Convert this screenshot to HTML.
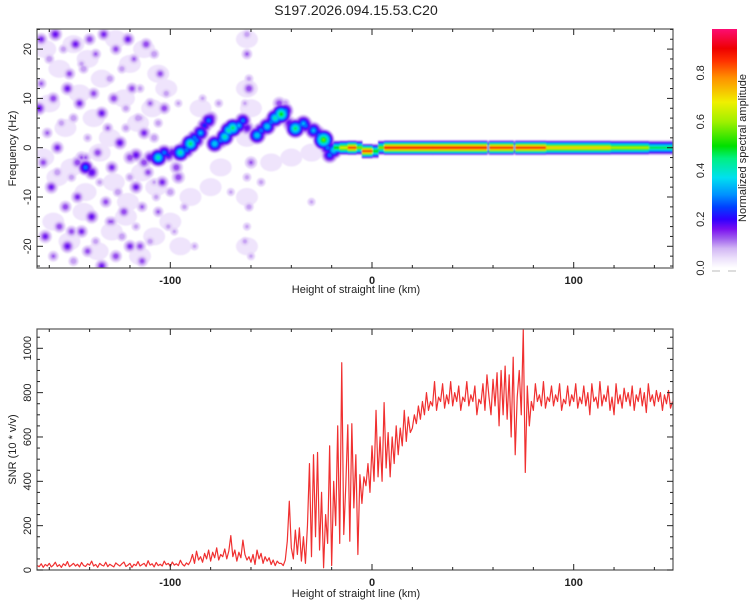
<!DOCTYPE html>
<html><head><meta charset="utf-8"><style>
html,body{margin:0;padding:0;background:#fff;}
svg{display:block;font-family:"Liberation Sans",sans-serif;}
</style></head><body>
<svg id="chart" width="750" height="600" viewBox="0 0 750 600" xmlns="http://www.w3.org/2000/svg">
<defs>
<clipPath id="clipTop"><rect x="37" y="29" width="636" height="239"/></clipPath>
<clipPath id="clipBot"><rect x="37" y="329" width="636" height="241"/></clipPath>
<filter id="soft" x="-5%" y="-5%" width="110%" height="110%"><feGaussianBlur stdDeviation="0.9"/></filter>
<linearGradient id="cbGrad" x1="0" y1="1" x2="0" y2="0"></linearGradient>
</defs>
<text x="356" y="15" text-anchor="middle" font-size="14" fill="#222">S197.2026.094.15.53.C20</text>
<g clip-path="url(#clipTop)"><g id="heat" filter="url(#soft)"></g></g>
<g id="topAxes"></g>
<g id="snrG" clip-path="url(#clipBot)"></g>
<g id="botAxes"></g>
<g id="cbar"></g>
</svg>
<script>
// ---- data ----
const cmapStops = [0,0.04,0.08,0.12,0.16,0.2,0.25,0.3,0.37,0.45,0.5,0.6,0.68,0.78,0.85,0.9,1];
const cmapColors = ['#ffffff','#ece0fb','#d2b6f4','#a060ee','#7a10f0','#3000ff','#0040ff','#0090ff','#00e0f0','#00f080','#00e000','#a0f000','#f0f000','#ff9000','#ff3000','#ee0000','#ff1090'];
const xTicks = [-100,0,100];
const freqTicks = [-20,-10,0,10,20];
const snrTicks = [0,200,400,600,800,1000];
const cbTicks = [0.0,0.2,0.4,0.6,0.8];

const hazeX = [-162,-155,-148,-141,-134,-127,-120,-113,-106,-160,-152,-145,-138,-130,-123,-116,-109,-102,-163,-156,-149,-142,-135,-128,-121,-114,-107,-158,-150,-143,-136,-129,-122,-115,-108,-100,-95,-90,-85,-80,-62,-62,-62,-62,-62,-50,-40,-30,-60,-75];
const hazeF = [20,16,21,18,14,22,17,20,15,9,4,11,6,2,10,5,8,12,-2,-6,-4,-9,-1,-7,-11,-5,-8,-15,-19,-13,-21,-17,-14,-22,-18,-15,-20,-10,8,-8,22,12,2,-10,-20,-3,-2,-1,8,-4];

const noiseX = [-164,-160,-157,-153,-150,-147,-144,-140,-137,-133,-130,-127,-124,-121,-118,-115,-112,-108,-105,-102,
 -165,-161,-158,-154,-151,-148,-145,-141,-138,-134,-131,-128,-125,-122,-119,-116,-113,-110,-106,-103,
 -163,-159,-156,-152,-149,-146,-142,-139,-135,-132,-129,-126,-123,-120,-117,-114,-111,-107,-104,-100,
 -162,-158,-155,-151,-148,-144,-141,-137,-134,-130,-127,-124,-120,-117,-114,-110,-106,-98,-93,-88,
 -164,-156,-149,-143,-136,-129,-122,-115,-108,-101,-62,-62,-61,-63,-62,-61,-62,-63,-60,-84,-76,-70,-55,-43,-30,-115,-108,-96];
const noiseF = [22,18,23,20,15,21,17,22,19,23,14,20,16,22,18,12,21,19,15,11,
 8,3,10,5,12,6,9,2,11,7,4,10,1,8,12,6,3,9,5,8,
 -3,-8,-5,-12,-6,-10,-2,-14,-7,-11,-4,-9,-13,-6,-8,-12,-5,-10,-7,-9,
 -18,-22,-16,-20,-23,-17,-21,-19,-24,-15,-22,-18,-20,-16,-23,-19,-13,-17,-12,-20,
 13,0,-17,16,-1,-15,4,-20,2,-16,23,19,14,9,-6,-12,-16,-19,-22,10,9,-9,-7,9,-11,6,-7,9];
const noiseA = [0.16,0.11,0.18,0.1,0.14,0.17,0.09,0.15,0.12,0.16,0.11,0.14,0.1,0.17,0.12,0.09,0.15,0.11,0.14,0.1,
 0.18,0.12,0.15,0.1,0.17,0.11,0.16,0.09,0.14,0.17,0.12,0.15,0.18,0.1,0.14,0.11,0.16,0.12,0.1,0.15,
 0.14,0.17,0.11,0.15,0.1,0.16,0.12,0.18,0.09,0.14,0.16,0.11,0.15,0.1,0.17,0.12,0.14,0.09,0.16,0.11,
 0.17,0.12,0.15,0.18,0.11,0.16,0.14,0.1,0.17,0.12,0.15,0.11,0.16,0.09,0.14,0.1,0.12,0.08,0.09,0.08,
 0.12,0.16,0.14,0.11,0.15,0.12,0.1,0.14,0.11,0.09,0.1,0.12,0.09,0.08,0.09,0.1,0.08,0.09,0.08,0.08,0.09,0.08,0.09,0.1,0.08,0.09,0.08,0.08];

const ridgeX = [-146,-142,-139,-144,-120,-117,-113,-110,-106,-103,-99,-97,-96,-95,-92,-90,-87,-85,-83,-81,-80,-78,-75,-73,-71,-69,-66,-64,-60,-57,-55,-52,-50,-48,-45,-43,-41,-38,-36,-34,-31,-29,-26,-24,-22,-21,-19,-61,-46,
 -108,-101,-93,-88,-76,-68,-62,-54,-47,-40,-33,-27];
const ridgeF = [-3,-4,-5,-2,-2,-1.5,-3,-2,-2,-1,-1,-4,-6,-1,-0.5,0.8,1.5,3,4.5,5.5,6,0.8,1.5,2.2,3.5,4,4.5,5.5,-3,2.5,3.5,4.3,5.2,6,6.8,7.5,5,3.9,4.5,4.9,4,3.5,2.5,1.6,0,-1.5,-0.5,12,9,
 -2,-1.5,0,2,1.2,4.3,4,3.8,6.5,4.5,4.5,3];
const ridgeA = [0.15,0.3,0.2,0.12,0.15,0.18,0.15,0.2,0.45,0.3,0.2,0.15,0.15,0.45,0.3,0.5,0.3,0.35,0.25,0.3,0.2,0.4,0.3,0.45,0.45,0.5,0.35,0.3,0.12,0.4,0.3,0.4,0.3,0.45,0.55,0.3,0.2,0.5,0.3,0.35,0.2,0.35,0.3,0.6,0.3,0.3,0.4,0.15,0.15,
 0.25,0.22,0.25,0.3,0.25,0.3,0.2,0.25,0.35,0.25,0.3,0.25];

const bandX = [-19,-16,-12,-8,-5,0,3,6,30,57,58,70,71,86,118,137,149];
const bandF = [0,0,0,0,-0.7,-0.7,0,0,0,0,0,0,0,0,0,0,0];
const bandA = [0.55,0.7,0.9,0.6,0.9,0.55,0.6,0.95,0.95,0.4,0.92,0.4,0.92,0.75,0.65,0.5,0.5];

const snrStart = -166;
const snrValues = [
20,15,28,12,25,18,30,14,22,35,16,24,12,28,20,38,15,22,30,18,26,14,34,20,16,28,22,40,18,25,
12,30,22,18,35,15,26,20,14,32,24,18,28,36,16,22,30,12,26,20,38,18,24,30,16,42,22,28,14,34,
20,26,18,40,24,30,16,36,22,28,20,44,26,18,32,24,
40,70,30,85,45,60,35,75,50,90,40,80,55,100,45,70,60,95,50,85,155,60,90,40,80,55,135,70,45,60,
35,70,25,90,50,75,30,60,40,55,25,45,20,40,30,
30,20,45,
130,310,100,50,180,70,190,40,150,30,200,
480,60,520,150,530,90,350,10,250,120,560,20,400,200,650,120,935,160,380,655,130,660,280,520,70,430,
300,420,380,480,350,560,400,720,420,600,400,755,460,620,420,600,480,650,520,640,560,720,580,690,620,
640,700,660,740,680,760,700,800,720,760,740,850,720,780,760,840,730,790,750,850,
740,800,760,830,720,780,760,850,740,790,760,830,700,770,750,840,720,880,780,700,
860,740,890,650,900,700,920,680,880,600,960,520,780,900,700,1085,440,830,650,760,
720,840,760,790,740,850,730,780,760,830,740,790,760,840,720,770,750,830,740,790,
760,840,730,780,750,830,740,800,700,840,760,780,730,850,740,790,760,830,720,780,
700,840,750,790,730,820,760,800,740,830,720,790,760,820,740,800,710,840,760,790,
740,810,760,800,720,790,750,810,730,760];

// ---- scales ----
const NS='http://www.w3.org/2000/svg';
const xs = k => 372 + k*2.017;
const yf = f => 147.7 - f*4.93;
const ys = v => 570 - v*0.2217;
function hex(h){return [parseInt(h.slice(1,3),16),parseInt(h.slice(3,5),16),parseInt(h.slice(5,7),16)];}
function cmap(v){
  v=Math.max(0,Math.min(1,v));
  for(let i=1;i<cmapStops.length;i++){
    if(v<=cmapStops[i]){const t=(v-cmapStops[i-1])/(cmapStops[i]-cmapStops[i-1]);
      const a=hex(cmapColors[i-1]),b=hex(cmapColors[i]);
      return 'rgb('+a.map((c,j)=>Math.round(c+(b[j]-c)*t)).join(',')+')';}
  }
  return cmapColors[cmapColors.length-1];
}
function mk(tag,attrs,parent){const e=document.createElementNS(NS,tag);for(const k in attrs)e.setAttribute(k,attrs[k]);parent.appendChild(e);return e;}
const levels=[0.03,0.07,0.11,0.15,0.2,0.26,0.32,0.4,0.48,0.56,0.64,0.72,0.8,0.88,0.95];

// ---- heatmap ----
const heat=document.getElementById('heat');
for(let i=0;i<hazeX.length;i++){
  const h=mk('ellipse',{cx:xs(hazeX[i]),cy:yf(hazeF[i]),rx:11,ry:9,fill:'#efe4fc'},heat);
  
  
}
for(const l of levels){
  const col=cmap(l+0.02);
  for(let i=0;i<noiseX.length;i++){const a=noiseA[i]; if(l>=a) continue;
    const r=(4+24*a)*(1-l/(a+0.02));
    const c=mk('circle',{cx:xs(noiseX[i]),cy:yf(noiseF[i]),r:r.toFixed(2),fill:col},heat);
    
    
  }
  for(let i=0;i<ridgeX.length;i++){const a=ridgeA[i]; if(l>=a) continue;
    const r=(7+8*a)*(1-l/(a+0.02));
    const c=mk('circle',{cx:xs(ridgeX[i]),cy:yf(ridgeF[i]),r:r.toFixed(2),fill:col},heat);
    
    
  }
  for(let i=0;i<bandX.length-1;i++){
    const a=bandA[i]; if(l>=a) continue;
    const h=8*(1-l/(a+0.02));
    const r=mk('rect',{x:xs(bandX[i]),y:(yf(bandF[i])-h).toFixed(2),width:(xs(bandX[i+1])-xs(bandX[i])+0.5).toFixed(2),height:(2*h).toFixed(2),fill:col},heat);
    
    
  }
}

// ---- axes ----
function axes(g,top,bot,yTicks,ymap,yMinorStep,yMin,yMax,yTitle,xLblY,xTitleY){
  mk('rect',{x:37,y:top,width:636,height:bot-top,fill:'none',stroke:'#555','stroke-width':1.2},g);
  for(let k=-160;k<=140;k+=20){const X=xs(k);const L=(k%100===0)?6:3;
    mk('line',{x1:X,y1:bot,x2:X,y2:bot-L,stroke:'#222'},g);
    mk('line',{x1:X,y1:top,x2:X,y2:top+L,stroke:'#222'},g);}
  for(const t of xTicks){const tx=mk('text',{x:xs(t),y:xLblY,'text-anchor':'middle','font-size':11,'font-weight':'bold',fill:'#222'},g);tx.textContent=t;
    
    }
  const xt=mk('text',{x:356,y:xTitleY,'text-anchor':'middle','font-size':11,fill:'#222'},g);xt.textContent='Height of straight line (km)';
  
  
  for(let v=yMin;v<=yMax;v+=yMinorStep){const Y=ymap(v);if(Y<top-0.5||Y>bot+0.5)continue;const L=yTicks.includes(v)?6:3;
    mk('line',{x1:37,y1:Y,x2:37+L,y2:Y,stroke:'#222'},g);
    mk('line',{x1:673,y1:Y,x2:673-L,y2:Y,stroke:'#222'},g);}
  for(const t of yTicks){const Y=ymap(t);const tx=mk('text',{x:0,y:0,transform:'translate(31,'+Y+') rotate(-90)','text-anchor':'middle','font-size':11,fill:'#222'},g);tx.textContent=t;
    
    }
  const yt=mk('text',{x:0,y:0,transform:'translate(16,'+((top+bot)/2)+') rotate(-90)','text-anchor':'middle','font-size':11,fill:'#222'},g);yt.textContent=yTitle;
  
  
}
axes(document.getElementById('topAxes'),29,268,freqTicks,yf,2,-24,24,'Frequency (Hz)',284,293);
axes(document.getElementById('botAxes'),329,570,snrTicks,ys,50,0,1050,'SNR (10 * v/v)',586,597);

// ---- SNR line ----
const snrG=document.getElementById('snrG');
let d='';
snrValues.forEach((v,i)=>{d+=(i?'L':'M')+xs(snrStart+i).toFixed(2)+','+ys(v).toFixed(2);});
const p=mk('path',{d:d,fill:'none',stroke:'#f03030','stroke-width':1.2,'stroke-linejoin':'round'},snrG);



// ---- colorbar ----
const grad=document.getElementById('cbGrad');
const cbMax=0.98;
cmapStops.forEach((s,i)=>{if(s<=cbMax) mk('stop',{offset:(s/cbMax),'stop-color':cmapColors[i]},grad);});
mk('stop',{offset:1,'stop-color':cmap(cbMax)},grad);
const cb=document.getElementById('cbar');
const cbY=v=>268-v*(239/cbMax);
const cr=mk('rect',{x:712,y:29,width:25,height:239,fill:'url(#cbGrad)'},cb);


for(const t of cbTicks){const tx=mk('text',{x:0,y:0,transform:'translate(704,'+cbY(t)+') rotate(-90)','text-anchor':'middle','font-size':11,fill:'#222'},cb);tx.textContent=t.toFixed(1);
  
  }
mk('line',{x1:712,y1:271,x2:720,y2:271,stroke:'#bbb'},cb);
mk('line',{x1:728,y1:271,x2:736,y2:271,stroke:'#bbb'},cb);
const ct=mk('text',{x:0,y:0,transform:'translate(746,148) rotate(-90)','text-anchor':'middle','font-size':11,fill:'#222'},cb);ct.textContent='Normalized spectral amplitude';


</script>
</body></html>
